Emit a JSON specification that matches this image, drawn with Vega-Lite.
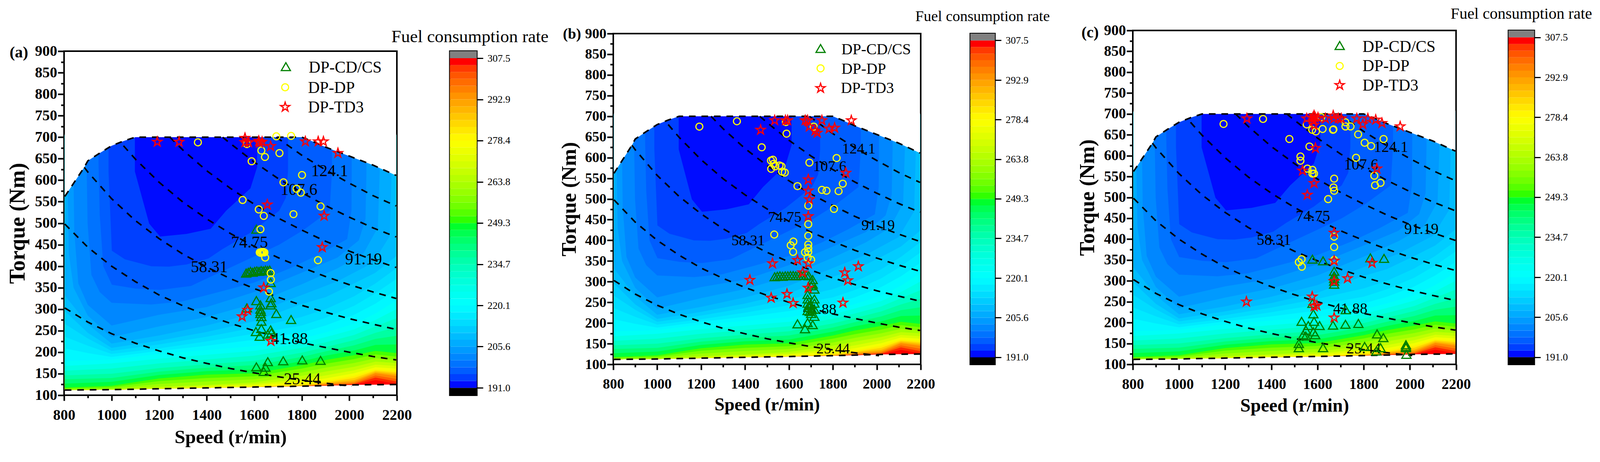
{"$schema":"https://vega.github.io/schema/vega-lite/v6.json","autosize":"none","padding":{"left":164,"top":0,"right":3932,"bottom":1183},"background":"white","config":{"view":{"stroke":"black","strokeWidth":4},"axis":{"grid":false,"domain":false,"tickColor":"black","tickWidth":4,"labelColor":"black","titleColor":"black","labelFont":"Liberation Serif","titleFont":"Liberation Serif","labelFontWeight":"bold","titleFontWeight":"bold","labelOverlap":false,"labelFlush":false}},
"datasets":{
"map":[{"v":307.5,"x":803,"y":112},{"v":307.5,"x":1000,"y":113},{"v":307.5,"x":1200,"y":115},{"v":307.5,"x":1400,"y":117},{"v":307.5,"x":1600,"y":119},{"v":307.5,"x":1800,"y":121},{"v":307.5,"x":1900,"y":122},{"v":307.5,"x":2020,"y":124},{"v":307.5,"x":2110,"y":124.5},{"v":307.5,"x":2197,"y":125},
{"v":305.1,"x":803,"y":112},{"v":305.1,"x":1000,"y":113},{"v":305.1,"x":1200,"y":115},{"v":305.1,"x":1400,"y":117},{"v":305.1,"x":1600,"y":119},{"v":305.1,"x":1800,"y":121},{"v":305.1,"x":1900,"y":122},{"v":305.1,"x":2020,"y":124},{"v":305.1,"x":2110,"y":135},{"v":305.1,"x":2197,"y":127},
{"v":300.2,"x":803,"y":112},{"v":300.2,"x":1000,"y":113},{"v":300.2,"x":1200,"y":115},{"v":300.2,"x":1400,"y":117},{"v":300.2,"x":1600,"y":119},{"v":300.2,"x":1800,"y":121},{"v":300.2,"x":1900,"y":123},{"v":300.2,"x":2020,"y":126},{"v":300.2,"x":2110,"y":141},{"v":300.2,"x":2197,"y":132},
{"v":295.4,"x":803,"y":112},{"v":295.4,"x":1000,"y":113},{"v":295.4,"x":1200,"y":115},{"v":295.4,"x":1400,"y":117},{"v":295.4,"x":1600,"y":119},{"v":295.4,"x":1800,"y":121},{"v":295.4,"x":1900,"y":124},{"v":295.4,"x":2020,"y":128},{"v":295.4,"x":2110,"y":146},{"v":295.4,"x":2197,"y":138},
{"v":290.5,"x":803,"y":112},{"v":290.5,"x":1000,"y":113},{"v":290.5,"x":1200,"y":115},{"v":290.5,"x":1400,"y":117},{"v":290.5,"x":1600,"y":119},{"v":290.5,"x":1800,"y":121},{"v":290.5,"x":1900,"y":126},{"v":290.5,"x":2020,"y":131},{"v":290.5,"x":2110,"y":151},{"v":290.5,"x":2197,"y":145},
{"v":285.6,"x":803,"y":112},{"v":285.6,"x":1000,"y":113},{"v":285.6,"x":1200,"y":115},{"v":285.6,"x":1400,"y":117},{"v":285.6,"x":1600,"y":119},{"v":285.6,"x":1800,"y":122},{"v":285.6,"x":1900,"y":128},{"v":285.6,"x":2020,"y":135},{"v":285.6,"x":2110,"y":154},{"v":285.6,"x":2197,"y":149},
{"v":280.8,"x":803,"y":112},{"v":280.8,"x":1000,"y":113},{"v":280.8,"x":1200,"y":115},{"v":280.8,"x":1400,"y":117},{"v":280.8,"x":1600,"y":119},{"v":280.8,"x":1800,"y":124},{"v":280.8,"x":1900,"y":130},{"v":280.8,"x":2020,"y":140},{"v":280.8,"x":2110,"y":157},{"v":280.8,"x":2197,"y":153},
{"v":276,"x":803,"y":112},{"v":276,"x":1000,"y":113},{"v":276,"x":1200,"y":115},{"v":276,"x":1400,"y":117},{"v":276,"x":1600,"y":120},{"v":276,"x":1800,"y":127},{"v":276,"x":1900,"y":133},{"v":276,"x":2020,"y":145},{"v":276,"x":2110,"y":160},{"v":276,"x":2197,"y":157},
{"v":271.1,"x":803,"y":112},{"v":271.1,"x":1000,"y":113},{"v":271.1,"x":1200,"y":115},{"v":271.1,"x":1400,"y":119},{"v":271.1,"x":1600,"y":123},{"v":271.1,"x":1800,"y":132},{"v":271.1,"x":1900,"y":139},{"v":271.1,"x":2020,"y":151},{"v":271.1,"x":2110,"y":165},{"v":271.1,"x":2197,"y":162},
{"v":266.3,"x":803,"y":112},{"v":266.3,"x":1000,"y":113},{"v":266.3,"x":1200,"y":117},{"v":266.3,"x":1400,"y":122},{"v":266.3,"x":1600,"y":126},{"v":266.3,"x":1800,"y":137},{"v":266.3,"x":1900,"y":146},{"v":266.3,"x":2020,"y":158},{"v":266.3,"x":2110,"y":171},{"v":266.3,"x":2197,"y":168},
{"v":261.4,"x":803,"y":112},{"v":261.4,"x":1000,"y":114},{"v":261.4,"x":1200,"y":120},{"v":261.4,"x":1400,"y":124},{"v":261.4,"x":1600,"y":130},{"v":261.4,"x":1800,"y":145},{"v":261.4,"x":1900,"y":155},{"v":261.4,"x":2020,"y":166},{"v":261.4,"x":2110,"y":178},{"v":261.4,"x":2197,"y":175},
{"v":256.6,"x":803,"y":114},{"v":256.6,"x":1000,"y":116},{"v":256.6,"x":1200,"y":126},{"v":256.6,"x":1400,"y":132},{"v":256.6,"x":1600,"y":137},{"v":256.6,"x":1800,"y":153},{"v":256.6,"x":1900,"y":164},{"v":256.6,"x":2020,"y":175},{"v":256.6,"x":2110,"y":186},{"v":256.6,"x":2197,"y":182},
{"v":251.7,"x":803,"y":116},{"v":251.7,"x":1000,"y":119},{"v":251.7,"x":1200,"y":133},{"v":251.7,"x":1400,"y":140},{"v":251.7,"x":1600,"y":144},{"v":251.7,"x":1800,"y":162},{"v":251.7,"x":1900,"y":173},{"v":251.7,"x":2020,"y":184},{"v":251.7,"x":2110,"y":195},{"v":251.7,"x":2197,"y":190},
{"v":246.8,"x":803,"y":118},{"v":246.8,"x":1000,"y":122},{"v":246.8,"x":1200,"y":139},{"v":246.8,"x":1400,"y":148},{"v":246.8,"x":1600,"y":151},{"v":246.8,"x":1800,"y":170},{"v":246.8,"x":1900,"y":182},{"v":246.8,"x":2020,"y":193},{"v":246.8,"x":2110,"y":203},{"v":246.8,"x":2197,"y":198},
{"v":242,"x":803,"y":127},{"v":242,"x":1000,"y":131},{"v":242,"x":1200,"y":147},{"v":242,"x":1400,"y":156},{"v":242,"x":1600,"y":160},{"v":242,"x":1800,"y":179},{"v":242,"x":1900,"y":192},{"v":242,"x":2020,"y":204},{"v":242,"x":2110,"y":217},{"v":242,"x":2197,"y":218},
{"v":237.1,"x":803,"y":137},{"v":237.1,"x":1000,"y":140},{"v":237.1,"x":1200,"y":155},{"v":237.1,"x":1400,"y":164},{"v":237.1,"x":1600,"y":170},{"v":237.1,"x":1800,"y":189},{"v":237.1,"x":1900,"y":202},{"v":237.1,"x":2020,"y":216},{"v":237.1,"x":2110,"y":231},{"v":237.1,"x":2197,"y":238},
{"v":232.3,"x":803,"y":146},{"v":232.3,"x":1000,"y":150},{"v":232.3,"x":1200,"y":163},{"v":232.3,"x":1400,"y":172},{"v":232.3,"x":1600,"y":180},{"v":232.3,"x":1800,"y":199},{"v":232.3,"x":1900,"y":212},{"v":232.3,"x":2020,"y":228},{"v":232.3,"x":2110,"y":245},{"v":232.3,"x":2197,"y":258},
{"v":227.4,"x":803,"y":157},{"v":227.4,"x":1000,"y":162},{"v":227.4,"x":1200,"y":174},{"v":227.4,"x":1400,"y":183},{"v":227.4,"x":1600,"y":192},{"v":227.4,"x":1800,"y":210},{"v":227.4,"x":1900,"y":223},{"v":227.4,"x":2020,"y":240},{"v":227.4,"x":2110,"y":260},{"v":227.4,"x":2197,"y":279},
{"v":222.6,"x":803,"y":168},{"v":222.6,"x":1000,"y":174},{"v":222.6,"x":1200,"y":185},{"v":222.6,"x":1400,"y":194},{"v":222.6,"x":1600,"y":203},{"v":222.6,"x":1800,"y":221},{"v":222.6,"x":1900,"y":235},{"v":222.6,"x":2020,"y":253},{"v":222.6,"x":2110,"y":275},{"v":222.6,"x":2197,"y":300},
{"v":218.9,"x":803,"y":180},{"v":218.9,"x":900,"y":181},{"v":218.9,"x":1000,"y":183},{"v":218.9,"x":1200,"y":196},{"v":218.9,"x":1400,"y":205},{"v":218.9,"x":1600,"y":214},{"v":218.9,"x":1800,"y":232},{"v":218.9,"x":1900,"y":246},{"v":218.9,"x":2020,"y":266},{"v":218.9,"x":2110,"y":290},{"v":218.9,"x":2197,"y":320},
{"v":216.5,"x":803,"y":209},{"v":216.5,"x":900,"y":198},{"v":216.5,"x":1000,"y":189},{"v":216.5,"x":1200,"y":203},{"v":216.5,"x":1400,"y":215},{"v":216.5,"x":1600,"y":229},{"v":216.5,"x":1800,"y":246},{"v":216.5,"x":1900,"y":262},{"v":216.5,"x":2020,"y":287},{"v":216.5,"x":2110,"y":313},{"v":216.5,"x":2197,"y":345},
{"v":214.1,"x":803,"y":236},{"v":214.1,"x":900,"y":215},{"v":214.1,"x":1000,"y":196},{"v":214.1,"x":1200,"y":209},{"v":214.1,"x":1400,"y":225},{"v":214.1,"x":1600,"y":243},{"v":214.1,"x":1800,"y":262},{"v":214.1,"x":1900,"y":280},{"v":214.1,"x":2020,"y":308},{"v":214.1,"x":2110,"y":337},{"v":214.1,"x":2197,"y":370},
{"v":211.7,"x":803,"y":266},{"v":211.7,"x":900,"y":232},{"v":211.7,"x":1000,"y":203},{"v":211.7,"x":1200,"y":218},{"v":211.7,"x":1400,"y":236},{"v":211.7,"x":1600,"y":257},{"v":211.7,"x":1800,"y":282},{"v":211.7,"x":1900,"y":300},{"v":211.7,"x":2020,"y":330},{"v":211.7,"x":2110,"y":360},{"v":211.7,"x":2197,"y":395},
{"v":209.2,"x":803,"y":296},{"v":209.2,"x":900,"y":245},{"v":209.2,"x":1000,"y":210},{"v":209.2,"x":1200,"y":227},{"v":209.2,"x":1400,"y":247},{"v":209.2,"x":1600,"y":272},{"v":209.2,"x":1800,"y":312},{"v":209.2,"x":1900,"y":328},{"v":209.2,"x":2020,"y":360},{"v":209.2,"x":2110,"y":385},{"v":209.2,"x":2197,"y":423},
{"v":206.8,"x":803,"y":332},{"v":206.8,"x":900,"y":265},{"v":206.8,"x":1000,"y":220},{"v":206.8,"x":1200,"y":239},{"v":206.8,"x":1400,"y":262},{"v":206.8,"x":1600,"y":290},{"v":206.8,"x":1800,"y":333},{"v":206.8,"x":1950,"y":365},{"v":206.8,"x":2100,"y":408},{"v":206.8,"x":2170,"y":470},{"v":206.8,"x":2178,"y":620},
{"v":204.4,"x":815,"y":590},{"v":204.4,"x":820,"y":430},{"v":204.4,"x":840,"y":350},{"v":204.4,"x":900,"y":285},{"v":204.4,"x":1000,"y":235},{"v":204.4,"x":1200,"y":260},{"v":204.4,"x":1400,"y":282},{"v":204.4,"x":1600,"y":313},{"v":204.4,"x":1800,"y":358},{"v":204.4,"x":1950,"y":395},{"v":204.4,"x":2060,"y":430},{"v":204.4,"x":2120,"y":490},{"v":204.4,"x":2128,"y":620},
{"v":201.9,"x":840,"y":600},{"v":201.9,"x":843,"y":480},{"v":201.9,"x":860,"y":360},{"v":201.9,"x":900,"y":310},{"v":201.9,"x":1000,"y":262},{"v":201.9,"x":1200,"y":287},{"v":201.9,"x":1400,"y":305},{"v":201.9,"x":1600,"y":340},{"v":201.9,"x":1800,"y":385},{"v":201.9,"x":1950,"y":420},{"v":201.9,"x":2040,"y":460},{"v":201.9,"x":2068,"y":510},{"v":201.9,"x":2072,"y":620},
{"v":199.5,"x":895,"y":630},{"v":199.5,"x":899,"y":500},{"v":199.5,"x":915,"y":380},{"v":199.5,"x":950,"y":340},{"v":199.5,"x":1000,"y":315},{"v":199.5,"x":1167,"y":311},{"v":199.5,"x":1296,"y":318},{"v":199.5,"x":1445,"y":339},{"v":199.5,"x":1600,"y":362},{"v":199.5,"x":1750,"y":395},{"v":199.5,"x":1871,"y":427},{"v":199.5,"x":1991,"y":463},{"v":199.5,"x":2009,"y":529},{"v":199.5,"x":2010,"y":620},
{"v":197.1,"x":945,"y":640},{"v":197.1,"x":950,"y":520},{"v":197.1,"x":965,"y":400},{"v":197.1,"x":1001,"y":357},{"v":197.1,"x":1102,"y":348},{"v":197.1,"x":1204,"y":345},{"v":197.1,"x":1334,"y":354},{"v":197.1,"x":1426,"y":378},{"v":197.1,"x":1566,"y":414},{"v":197.1,"x":1705,"y":450},{"v":197.1,"x":1807,"y":484},{"v":197.1,"x":1917,"y":529},{"v":197.1,"x":1927,"y":620},
{"v":194.6,"x":987,"y":620},{"v":194.6,"x":1001,"y":436},{"v":194.6,"x":1056,"y":416},{"v":194.6,"x":1167,"y":400},{"v":194.6,"x":1241,"y":399},{"v":194.6,"x":1315,"y":404},{"v":194.6,"x":1408,"y":418},{"v":194.6,"x":1464,"y":439},{"v":194.6,"x":1584,"y":478},{"v":194.6,"x":1705,"y":529},{"v":194.6,"x":1733,"y":559},{"v":194.6,"x":1742,"y":620},
{"v":192.2,"x":1098,"y":620},{"v":192.2,"x":1158,"y":499},{"v":192.2,"x":1204,"y":469},{"v":192.2,"x":1315,"y":475},{"v":192.2,"x":1417,"y":487},{"v":192.2,"x":1482,"y":529},{"v":192.2,"x":1584,"y":581},{"v":192.2,"x":1612,"y":630}],
"env":[{"x":803,"y":562},{"x":885,"y":630},{"x":900,"y":645},{"x":950,"y":663},{"x":1000,"y":680},{"x":1050,"y":691},{"x":1100,"y":700},{"x":1800,"y":700},{"x":1850,"y":689},{"x":1900,"y":677},{"x":2000,"y":656},{"x":2100,"y":635},{"x":2197,"y":611}],
"iso":[{"id":"top","x":803,"y":562},{"id":"top","x":885,"y":630},{"id":"top","x":900,"y":645},{"id":"top","x":950,"y":663},{"id":"top","x":1000,"y":680},{"id":"top","x":1050,"y":691},{"id":"top","x":1100,"y":700},{"id":"top","x":1800,"y":700},{"id":"top","x":1850,"y":689},{"id":"top","x":1900,"y":677},{"id":"top","x":2000,"y":656},{"id":"top","x":2100,"y":635},{"id":"top","x":2197,"y":611},
{"id":"bot","x":803,"y":112},{"id":"bot","x":1000,"y":113},{"id":"bot","x":1200,"y":115},{"id":"bot","x":1400,"y":117},{"id":"bot","x":1600,"y":119},{"id":"bot","x":1800,"y":121},{"id":"bot","x":2020,"y":124},{"id":"bot","x":2197,"y":125},
{"id":"p25","x":803,"y":303},{"id":"p25","x":900,"y":270},{"id":"p25","x":1000,"y":243},{"id":"p25","x":1100,"y":221},{"id":"p25","x":1200,"y":203},{"id":"p25","x":1300,"y":187},{"id":"p25","x":1400,"y":174},{"id":"p25","x":1500,"y":162},{"id":"p25","x":1600,"y":152},{"id":"p25","x":1700,"y":143},{"id":"p25","x":1800,"y":135},{"id":"p25","x":1900,"y":128},{"id":"p25","x":2010,"y":121},
{"id":"p41","x":803,"y":498},{"id":"p41","x":900,"y":444},{"id":"p41","x":1000,"y":400},{"id":"p41","x":1100,"y":364},{"id":"p41","x":1200,"y":333},{"id":"p41","x":1300,"y":308},{"id":"p41","x":1400,"y":286},{"id":"p41","x":1500,"y":267},{"id":"p41","x":1600,"y":250},{"id":"p41","x":1700,"y":235},{"id":"p41","x":1800,"y":222},{"id":"p41","x":1900,"y":211},{"id":"p41","x":2000,"y":200},{"id":"p41","x":2100,"y":190},{"id":"p41","x":2197,"y":182},
{"id":"p58","x":885,"y":630},{"id":"p58","x":900,"y":619},{"id":"p58","x":1000,"y":557},{"id":"p58","x":1100,"y":506},{"id":"p58","x":1200,"y":464},{"id":"p58","x":1300,"y":428},{"id":"p58","x":1400,"y":398},{"id":"p58","x":1500,"y":371},{"id":"p58","x":1600,"y":348},{"id":"p58","x":1700,"y":328},{"id":"p58","x":1800,"y":309},{"id":"p58","x":1900,"y":293},{"id":"p58","x":2000,"y":278},{"id":"p58","x":2100,"y":265},{"id":"p58","x":2197,"y":253},
{"id":"p74","x":1050,"y":680},{"id":"p74","x":1100,"y":649},{"id":"p74","x":1200,"y":595},{"id":"p74","x":1300,"y":549},{"id":"p74","x":1400,"y":510},{"id":"p74","x":1500,"y":476},{"id":"p74","x":1600,"y":446},{"id":"p74","x":1700,"y":420},{"id":"p74","x":1800,"y":397},{"id":"p74","x":1900,"y":376},{"id":"p74","x":2000,"y":357},{"id":"p74","x":2100,"y":340},{"id":"p74","x":2197,"y":325},
{"id":"p91","x":1245,"y":700},{"id":"p91","x":1300,"y":670},{"id":"p91","x":1400,"y":622},{"id":"p91","x":1500,"y":581},{"id":"p91","x":1600,"y":544},{"id":"p91","x":1700,"y":512},{"id":"p91","x":1800,"y":484},{"id":"p91","x":1900,"y":458},{"id":"p91","x":2000,"y":435},{"id":"p91","x":2100,"y":415},{"id":"p91","x":2197,"y":397},
{"id":"p107","x":1467,"y":700},{"id":"p107","x":1500,"y":685},{"id":"p107","x":1600,"y":642},{"id":"p107","x":1700,"y":604},{"id":"p107","x":1800,"y":571},{"id":"p107","x":1900,"y":541},{"id":"p107","x":2000,"y":514},{"id":"p107","x":2100,"y":489},{"id":"p107","x":2197,"y":468},
{"id":"p124","x":1693,"y":700},{"id":"p124","x":1800,"y":658},{"id":"p124","x":1900,"y":624},{"id":"p124","x":2000,"y":593},{"id":"p124","x":2100,"y":564},{"id":"p124","x":2197,"y":540}],
"bands":[{"v":192.2,"a":191,"b":193.43},{"v":194.6,"a":193.43,"b":195.85},{"v":197.1,"a":195.85,"b":198.28},{"v":199.5,"a":198.28,"b":200.71},{"v":201.9,"a":200.71,"b":203.14},{"v":204.4,"a":203.14,"b":205.56},{"v":206.8,"a":205.56,"b":207.99},{"v":209.2,"a":207.99,"b":210.42},{"v":211.6,"a":210.42,"b":212.84},{"v":214.1,"a":212.84,"b":215.27},{"v":216.5,"a":215.27,"b":217.7},{"v":218.9,"a":217.7,"b":220.13},{"v":221.3,"a":220.13,"b":222.55},{"v":223.8,"a":222.55,"b":224.98},{"v":226.2,"a":224.98,"b":227.41},{"v":228.6,"a":227.41,"b":229.83},{"v":231,"a":229.83,"b":232.26},{"v":233.5,"a":232.26,"b":234.69},{"v":235.9,"a":234.69,"b":237.11},{"v":238.3,"a":237.11,"b":239.54},{"v":240.8,"a":239.54,"b":241.97},{"v":243.2,"a":241.97,"b":244.4},{"v":245.6,"a":244.4,"b":246.82},{"v":248,"a":246.82,"b":249.25},{"v":250.5,"a":249.25,"b":251.68},{"v":252.9,"a":251.68,"b":254.1},{"v":255.3,"a":254.1,"b":256.53},{"v":257.7,"a":256.53,"b":258.96},{"v":260.2,"a":258.96,"b":261.39},{"v":262.6,"a":261.39,"b":263.81},{"v":265,"a":263.81,"b":266.24},{"v":267.5,"a":266.24,"b":268.67},{"v":269.9,"a":268.67,"b":271.09},{"v":272.3,"a":271.09,"b":273.52},{"v":274.7,"a":273.52,"b":275.95},{"v":277.2,"a":275.95,"b":278.38},{"v":279.6,"a":278.38,"b":280.8},{"v":282,"a":280.8,"b":283.23},{"v":284.4,"a":283.23,"b":285.66},{"v":286.9,"a":285.66,"b":288.08},{"v":289.3,"a":288.08,"b":290.51},{"v":291.7,"a":290.51,"b":292.94},{"v":294.2,"a":292.94,"b":295.36},{"v":296.6,"a":295.36,"b":297.79},{"v":299,"a":297.79,"b":300.22},{"v":301.4,"a":300.22,"b":302.65},{"v":303.9,"a":302.65,"b":305.07},{"v":306.3,"a":305.07,"b":307.5}],
"a_t":[{"x":1733,"y":864},{"x":1609,"y":486},{"x":1566,"y":384},{"x":1575,"y":386},{"x":1584,"y":388},{"x":1593,"y":386},{"x":1602,"y":388},{"x":1611,"y":389},{"x":1620,"y":388},{"x":1629,"y":390},{"x":1638,"y":389},{"x":1647,"y":391},{"x":1656,"y":390},{"x":1665,"y":391},{"x":1669,"y":362},{"x":1669,"y":327},{"x":1669,"y":310},{"x":1672,"y":315},{"x":1609,"y":320},{"x":1569,"y":303},{"x":1626,"y":310},{"x":1626,"y":300},{"x":1628,"y":295},{"x":1626,"y":290},{"x":1630,"y":283},{"x":1630,"y":272},{"x":1693,"y":290},{"x":1755,"y":276},{"x":1607,"y":248},{"x":1630,"y":255},{"x":1669,"y":252},{"x":1623,"y":237},{"x":1657,"y":242},{"x":1672,"y":245},{"x":1609,"y":166},{"x":1657,"y":178},{"x":1647,"y":165},{"x":1640,"y":155},{"x":1722,"y":180},{"x":1802,"y":182},{"x":1879,"y":181}],
"a_c":[{"x":1730,"y":816},{"x":1363,"y":688},{"x":1569,"y":684},{"x":1693,"y":702},{"x":1755,"y":703},{"x":1630,"y":669},{"x":1706,"y":663},{"x":1645,"y":654},{"x":1589,"y":644},{"x":1801,"y":612},{"x":1723,"y":595},{"x":1778,"y":580},{"x":1796,"y":571},{"x":1551,"y":554},{"x":1879,"y":539},{"x":1619,"y":532},{"x":1640,"y":517},{"x":1765,"y":521},{"x":1626,"y":486},{"x":1868,"y":414},{"x":1646,"y":420},{"x":1623,"y":432},{"x":1627,"y":431},{"x":1631,"y":433},{"x":1635,"y":432},{"x":1639,"y":433},{"x":1643,"y":432},{"x":1669,"y":384},{"x":1670,"y":369},{"x":1662,"y":341}],
"a_s":[{"x":1730,"y":770},{"x":1192,"y":689},{"x":1284,"y":689},{"x":1561,"y":698},{"x":1561,"y":688},{"x":1576,"y":688},{"x":1619,"y":691},{"x":1633,"y":689},{"x":1622,"y":687},{"x":1669,"y":679},{"x":1815,"y":690},{"x":1869,"y":690},{"x":1891,"y":690},{"x":1952,"y":663},{"x":1655,"y":543},{"x":1894,"y":517},{"x":1886,"y":444},{"x":1640,"y":350},{"x":1572,"y":298},{"x":1549,"y":283},{"x":1670,"y":226}],
"b_t":[{"x":1744,"y":864},{"x":1535,"y":312},{"x":1547,"y":313},{"x":1559,"y":314},{"x":1571,"y":313},{"x":1583,"y":314},{"x":1595,"y":314},{"x":1607,"y":315},{"x":1619,"y":315},{"x":1631,"y":314},{"x":1643,"y":315},{"x":1655,"y":315},{"x":1667,"y":315},{"x":1679,"y":316},{"x":1690,"y":314},{"x":1708,"y":305},{"x":1708,"y":294},{"x":1701,"y":290},{"x":1716,"y":282},{"x":1685,"y":269},{"x":1716,"y":258},{"x":1685,"y":258},{"x":1716,"y":248},{"x":1685,"y":248},{"x":1693,"y":237},{"x":1716,"y":233},{"x":1685,"y":230},{"x":1701,"y":223},{"x":1716,"y":216},{"x":1690,"y":242},{"x":1698,"y":244},{"x":1703,"y":235},{"x":1695,"y":228},{"x":1639,"y":198},{"x":1685,"y":201},{"x":1708,"y":196},{"x":1673,"y":186}],
"b_c":[{"x":1744,"y":816},{"x":1192,"y":675},{"x":1363,"y":688},{"x":1586,"y":686},{"x":1589,"y":658},{"x":1713,"y":675},{"x":1476,"y":625},{"x":1518,"y":593},{"x":1527,"y":595},{"x":1519,"y":573},{"x":1530,"y":585},{"x":1538,"y":579},{"x":1557,"y":581},{"x":1566,"y":579},{"x":1569,"y":566},{"x":1581,"y":564},{"x":1693,"y":588},{"x":1817,"y":599},{"x":1845,"y":537},{"x":1639,"y":531},{"x":1750,"y":522},{"x":1771,"y":520},{"x":1826,"y":519},{"x":1688,"y":484},{"x":1805,"y":476},{"x":1688,"y":439},{"x":1533,"y":414},{"x":1688,"y":411},{"x":1620,"y":397},{"x":1608,"y":388},{"x":1688,"y":390},{"x":1688,"y":381},{"x":1688,"y":372},{"x":1673,"y":371},{"x":1619,"y":372},{"x":1685,"y":358},{"x":1701,"y":353}],
"b_s":[{"x":1744,"y":768},{"x":1535,"y":690},{"x":1584,"y":690},{"x":1594,"y":690},{"x":1674,"y":690},{"x":1685,"y":690},{"x":1750,"y":690},{"x":1884,"y":690},{"x":1471,"y":667},{"x":1693,"y":675},{"x":1719,"y":665},{"x":1729,"y":660},{"x":1783,"y":670},{"x":1808,"y":672},{"x":1859,"y":563},{"x":1688,"y":547},{"x":1688,"y":520},{"x":1693,"y":499},{"x":1688,"y":458},{"x":1525,"y":344},{"x":1639,"y":352},{"x":1688,"y":344},{"x":1662,"y":322},{"x":1854,"y":322},{"x":1916,"y":337},{"x":1868,"y":303},{"x":1422,"y":304},{"x":1687,"y":285},{"x":1591,"y":270},{"x":1519,"y":261},{"x":1619,"y":248},{"x":1846,"y":249}],
"c_t":[{"x":1696,"y":864},{"x":1578,"y":352},{"x":1624,"y":348},{"x":1829,"y":355},{"x":1888,"y":354},{"x":1672,"y":323},{"x":1672,"y":312},{"x":1672,"y":306},{"x":1672,"y":299},{"x":1672,"y":292},{"x":1578,"y":246},{"x":1722,"y":231},{"x":1582,"y":221},{"x":1531,"y":203},{"x":1585,"y":203},{"x":1609,"y":193},{"x":1667,"y":194},{"x":1721,"y":196},{"x":1777,"y":198},{"x":1560,"y":193},{"x":1550,"y":182},{"x":1582,"y":178},{"x":1590,"y":171},{"x":1538,"y":171},{"x":1549,"y":168},{"x":1519,"y":150},{"x":1519,"y":140},{"x":1624,"y":140},{"x":1804,"y":143},{"x":1858,"y":173},{"x":1885,"y":164},{"x":1873,"y":140},{"x":1855,"y":132},{"x":1983,"y":147},{"x":1983,"y":143},{"x":1983,"y":140},{"x":1985,"y":124}],
"c_c":[{"x":1696,"y":815},{"x":1193,"y":676},{"x":1364,"y":688},{"x":1553,"y":675},{"x":1616,"y":692},{"x":1577,"y":662},{"x":1593,"y":658},{"x":1622,"y":664},{"x":1667,"y":662},{"x":1669,"y":663},{"x":1721,"y":680},{"x":1721,"y":670},{"x":1743,"y":670},{"x":1776,"y":651},{"x":1804,"y":631},{"x":1832,"y":623},{"x":1886,"y":640},{"x":1478,"y":640},{"x":1565,"y":622},{"x":1526,"y":598},{"x":1526,"y":588},{"x":1556,"y":569},{"x":1578,"y":566},{"x":1578,"y":557},{"x":1585,"y":557},{"x":1767,"y":595},{"x":1846,"y":552},{"x":1849,"y":529},{"x":1873,"y":535},{"x":1672,"y":545},{"x":1669,"y":524},{"x":1672,"y":516},{"x":1646,"y":496},{"x":1672,"y":406},{"x":1672,"y":381},{"x":1531,"y":352},{"x":1519,"y":345},{"x":1532,"y":334},{"x":1672,"y":350}],
"c_s":[{"x":1696,"y":769},{"x":1294,"y":689},{"x":1553,"y":689},{"x":1585,"y":696},{"x":1580,"y":691},{"x":1590,"y":691},{"x":1583,"y":683},{"x":1585,"y":673},{"x":1602,"y":691},{"x":1634,"y":689},{"x":1668,"y":696},{"x":1671,"y":689},{"x":1690,"y":689},{"x":1703,"y":689},{"x":1770,"y":689},{"x":1818,"y":689},{"x":1852,"y":686},{"x":1879,"y":678},{"x":1796,"y":675},{"x":1958,"y":670},{"x":1591,"y":618},{"x":1857,"y":569},{"x":1535,"y":564},{"x":1585,"y":534},{"x":1556,"y":506},{"x":1672,"y":415},{"x":1672,"y":348},{"x":1836,"y":343},{"x":1730,"y":306},{"x":1672,"y":299},{"x":1577,"y":262},{"x":1292,"y":250},{"x":1597,"y":241},{"x":1585,"y":239},{"x":1672,"y":212}],
"a_l":[{"t":"124.1","x":1917,"y":621},{"t":"107.6","x":1788,"y":578},{"t":"91.19","x":2060,"y":416},{"t":"74.75","x":1580,"y":455},{"t":"58.31","x":1411,"y":398},{"t":"41.88","x":1748,"y":231},{"t":"25.44","x":1802,"y":137}],
"b_l":[{"t":"124.1","x":1918,"y":620},{"t":"107.6","x":1786,"y":578},{"t":"91.19","x":2006,"y":435},{"t":"74.75","x":1581,"y":455},{"t":"58.31","x":1414,"y":398},{"t":"41.88","x":1740,"y":232},{"t":"25.44","x":1801,"y":137}],
"c_l":[{"t":"124.1","x":1918,"y":620},{"t":"107.6","x":1789,"y":578},{"t":"91.19","x":2050,"y":424},{"t":"74.75","x":1580,"y":455},{"t":"58.31","x":1411,"y":398},{"t":"41.88","x":1742,"y":233},{"t":"25.44","x":1800,"y":137}],
"a_g":[{"t":"DP-CD/CS","x":1829,"y":861},{"t":"DP-DP","x":1826,"y":814},{"t":"DP-TD3","x":1826,"y":768}],
"b_g":[{"t":"DP-CD/CS","x":1839,"y":861},{"t":"DP-DP","x":1839,"y":814},{"t":"DP-TD3","x":1836,"y":768}],
"c_g":[{"t":"DP-CD/CS","x":1795,"y":860},{"t":"DP-DP","x":1795,"y":814},{"t":"DP-TD3","x":1795,"y":767}]
},
"hconcat":[{"hconcat":[
{"vconcat":[{"width":1,"height":70,"view":{"stroke":null},"data":{"values":[{"a":1}]},"mark":{"type":"point","opacity":0}},
{"hconcat":[
{"width":852,"height":881,
"encoding":{"x":{"field":"x","type":"quantitative","scale":{"domain":[800,2200],"nice":false},"axis":{"title":"Speed (r/min)","titleFontSize":49,"titlePadding":13,"labelFontSize":38,"labelPadding":18,"format":"d","values":[800,900,1000,1100,1200,1300,1400,1500,1600,1700,1800,1900,2000,2100,2200],"labelExpr":"datum.value % 200 == 0 ? datum.label : ''","tickSize":{"condition":{"test":"datum.value % 200 == 0","value":14},"value":7}}},"y":{"field":"y","type":"quantitative","scale":{"domain":[100,900],"nice":false},"axis":{"title":"Torque (Nm)","titleFontSize":56,"titlePadding":15,"labelFontSize":38,"labelPadding":2,"format":"d","values":[100,125,150,175,200,225,250,275,300,325,350,375,400,425,450,475,500,525,550,575,600,625,650,675,700,725,750,775,800,825,850,875,900],"labelExpr":"datum.value % 50 == 0 ? datum.label : ''","tickSize":{"condition":{"test":"datum.value % 50 == 0","value":16},"value":8}}}},
"layer":[
{"data":{"name":"map"},"mark":{"type":"area"},"encoding":{"y2":{"datum":705},"detail":{"field":"v","type":"nominal"},"color":{"field":"v","type":"quantitative","legend":null,"scale":{"domain":[192,220.1,249.3,278.4,306.3],"range":["#0000ff","#00ffff","#00ff00","#ffff00","#ff0000"],"clamp":true}}}},
{"data":{"name":"env"},"mark":{"type":"area","color":"white"},"encoding":{"y2":{"datum":708}}},
{"data":{"name":"iso"},"mark":{"type":"line","color":"black","strokeWidth":4,"strokeDash":[17,15]},"encoding":{"detail":{"field":"id","type":"nominal"}}},
{"data":{"name":"a_l"},"mark":{"type":"text","font":"Liberation Serif","fontSize":42,"align":"center","baseline":"middle","color":"black"},"encoding":{"text":{"field":"t","type":"nominal"}}},
{"data":{"name":"a_g"},"mark":{"type":"text","font":"Liberation Serif","fontSize":41.5,"align":"left","baseline":"middle","color":"black"},"encoding":{"text":{"field":"t","type":"nominal"}}},
{"data":{"values":[{"x":610,"y":896,"t":"(a)"}]},"mark":{"type":"text","font":"Liberation Serif","fontWeight":"bold","fontSize":41,"align":"center","baseline":"middle","color":"black"},"encoding":{"text":{"field":"t","type":"nominal"}}},
{"data":{"name":"a_t"},"mark":{"type":"point","shape":"triangle-up","filled":false,"stroke":"#008000","strokeWidth":3,"size":550,"opacity":1}},
{"data":{"name":"a_c"},"mark":{"type":"point","shape":"circle","filled":false,"stroke":"#ffff00","strokeWidth":3,"size":320,"opacity":1}},
{"data":{"name":"a_s"},"mark":{"type":"point","shape":"M0,-1L0.224,-0.309L0.951,-0.309L0.363,0.118L0.588,0.809L0,0.382L-0.588,0.809L-0.363,0.118L-0.951,-0.309L-0.224,-0.309Z","filled":false,"stroke":"#ff0000","strokeWidth":3,"size":620,"opacity":1}}
]},
{"width":69,"height":881,"title":{"text":"Fuel consumption rate","font":"Liberation Serif","fontSize":45,"fontWeight":"normal","color":"black","anchor":"middle","offset":14,"dx":17},
"layer":[
{"data":{"name":"bands"},"mark":{"type":"rect"},"encoding":{"y":{"field":"a","type":"quantitative","scale":{"domain":[188.4,310],"nice":false},"axis":{"title":null,"orient":"right","values":[191,205.6,220.1,234.7,249.3,263.8,278.4,292.9,307.5],"format":".1f","tickSize":16,"tickWidth":3,"labelFontSize":26,"labelFontWeight":"normal","labelPadding":11}},"y2":{"field":"b"},"color":{"field":"v","type":"quantitative","legend":null,"scale":{"domain":[192,220.1,249.3,278.4,306.3],"range":["#0000ff","#00ffff","#00ff00","#ffff00","#ff0000"],"clamp":true}}}},
{"data":{"values":[{"a":188.4,"b":191}]},"mark":{"type":"rect","color":"black"},"encoding":{"y":{"field":"a","type":"quantitative"},"y2":{"field":"b"}}},
{"data":{"values":[{"a":307.5,"b":310}]},"mark":{"type":"rect","color":"#808080"},"encoding":{"y":{"field":"a","type":"quantitative"},"y2":{"field":"b"}}}
]}
],"spacing":135.6,"bounds":"flush","align":"none"}],"spacing":0},
{"vconcat":[{"width":1,"height":19.5,"view":{"stroke":null},"data":{"values":[{"a":1}]},"mark":{"type":"point","opacity":0}},
{"hconcat":[
{"width":787,"height":847,
"encoding":{"x":{"field":"x","type":"quantitative","scale":{"domain":[800,2200],"nice":false},"axis":{"title":"Speed (r/min)","titleFontSize":46,"titlePadding":13,"labelFontSize":36.5,"labelPadding":18,"format":"d","values":[800,900,1000,1100,1200,1300,1400,1500,1600,1700,1800,1900,2000,2100,2200],"labelExpr":"datum.value % 200 == 0 ? datum.label : ''","tickSize":{"condition":{"test":"datum.value % 200 == 0","value":14},"value":7}}},"y":{"field":"y","type":"quantitative","scale":{"domain":[100,900],"nice":false},"axis":{"title":"Torque (Nm)","titleFontSize":53,"titlePadding":13,"labelFontSize":36.5,"labelPadding":2,"format":"d","values":[100,125,150,175,200,225,250,275,300,325,350,375,400,425,450,475,500,525,550,575,600,625,650,675,700,725,750,775,800,825,850,875,900],"labelExpr":"datum.value % 50 == 0 ? datum.label : ''","tickSize":{"condition":{"test":"datum.value % 50 == 0","value":16},"value":8}}}},
"layer":[
{"data":{"name":"map"},"mark":{"type":"area"},"encoding":{"y2":{"datum":705},"detail":{"field":"v","type":"nominal"},"color":{"field":"v","type":"quantitative","legend":null,"scale":{"domain":[192,220.1,249.3,278.4,306.3],"range":["#0000ff","#00ffff","#00ff00","#ffff00","#ff0000"],"clamp":true}}}},
{"data":{"name":"env"},"mark":{"type":"area","color":"white"},"encoding":{"y2":{"datum":708}}},
{"data":{"name":"iso"},"mark":{"type":"line","color":"black","strokeWidth":4,"strokeDash":[17,15]},"encoding":{"detail":{"field":"id","type":"nominal"}}},
{"data":{"name":"b_l"},"mark":{"type":"text","font":"Liberation Serif","fontSize":38,"align":"center","baseline":"middle","color":"black"},"encoding":{"text":{"field":"t","type":"nominal"}}},
{"data":{"name":"b_g"},"mark":{"type":"text","font":"Liberation Serif","fontSize":39.5,"align":"left","baseline":"middle","color":"black"},"encoding":{"text":{"field":"t","type":"nominal"}}},
{"data":{"values":[{"x":612,"y":898,"t":"(b)"}]},"mark":{"type":"text","font":"Liberation Serif","fontWeight":"bold","fontSize":38,"align":"center","baseline":"middle","color":"black"},"encoding":{"text":{"field":"t","type":"nominal"}}},
{"data":{"name":"b_t"},"mark":{"type":"point","shape":"triangle-up","filled":false,"stroke":"#008000","strokeWidth":3,"size":550,"opacity":1}},
{"data":{"name":"b_c"},"mark":{"type":"point","shape":"circle","filled":false,"stroke":"#ffff00","strokeWidth":3,"size":320,"opacity":1}},
{"data":{"name":"b_s"},"mark":{"type":"point","shape":"M0,-1L0.224,-0.309L0.951,-0.309L0.363,0.118L0.588,0.809L0,0.382L-0.588,0.809L-0.363,0.118L-0.951,-0.309L-0.224,-0.309Z","filled":false,"stroke":"#ff0000","strokeWidth":3,"size":620,"opacity":1}}
]},
{"width":63,"height":847,"title":{"text":"Fuel consumption rate","font":"Liberation Serif","fontSize":38.5,"fontWeight":"normal","color":"black","anchor":"middle","offset":24},
"layer":[
{"data":{"name":"bands"},"mark":{"type":"rect"},"encoding":{"y":{"field":"a","type":"quantitative","scale":{"domain":[188.4,310],"nice":false},"axis":{"title":null,"orient":"right","values":[191,205.6,220.1,234.7,249.3,263.8,278.4,292.9,307.5],"format":".1f","tickSize":16,"tickWidth":3,"labelFontSize":26,"labelFontWeight":"normal","labelPadding":11}},"y2":{"field":"b"},"color":{"field":"v","type":"quantitative","legend":null,"scale":{"domain":[192,220.1,249.3,278.4,306.3],"range":["#0000ff","#00ffff","#00ff00","#ffff00","#ff0000"],"clamp":true}}}},
{"data":{"values":[{"a":188.4,"b":191}]},"mark":{"type":"rect","color":"black"},"encoding":{"y":{"field":"a","type":"quantitative"},"y2":{"field":"b"}}},
{"data":{"values":[{"a":307.5,"b":310}]},"mark":{"type":"rect","color":"#808080"},"encoding":{"y":{"field":"a","type":"quantitative"},"y2":{"field":"b"}}}
]}
],"spacing":127,"bounds":"flush","align":"none"}],"spacing":0}
],"spacing":22,"bounds":"full","align":"none"},
{"vconcat":[{"width":1,"height":13,"view":{"stroke":null},"data":{"values":[{"a":1}]},"mark":{"type":"point","opacity":0}},
{"hconcat":[
{"width":827.5,"height":855,
"encoding":{"x":{"field":"x","type":"quantitative","scale":{"domain":[800,2200],"nice":false},"axis":{"title":"Speed (r/min)","titleFontSize":47.5,"titlePadding":13,"labelFontSize":37.5,"labelPadding":18,"format":"d","values":[800,900,1000,1100,1200,1300,1400,1500,1600,1700,1800,1900,2000,2100,2200],"labelExpr":"datum.value % 200 == 0 ? datum.label : ''","tickSize":{"condition":{"test":"datum.value % 200 == 0","value":14},"value":7}}},"y":{"field":"y","type":"quantitative","scale":{"domain":[100,900],"nice":false},"axis":{"title":"Torque (Nm)","titleFontSize":54,"titlePadding":14,"labelFontSize":37.5,"labelPadding":2,"format":"d","values":[100,125,150,175,200,225,250,275,300,325,350,375,400,425,450,475,500,525,550,575,600,625,650,675,700,725,750,775,800,825,850,875,900],"labelExpr":"datum.value % 50 == 0 ? datum.label : ''","tickSize":{"condition":{"test":"datum.value % 50 == 0","value":16},"value":8}}}},
"layer":[
{"data":{"name":"map"},"mark":{"type":"area"},"encoding":{"y2":{"datum":705},"detail":{"field":"v","type":"nominal"},"color":{"field":"v","type":"quantitative","legend":null,"scale":{"domain":[192,220.1,249.3,278.4,306.3],"range":["#0000ff","#00ffff","#00ff00","#ffff00","#ff0000"],"clamp":true}}}},
{"data":{"name":"env"},"mark":{"type":"area","color":"white"},"encoding":{"y2":{"datum":708}}},
{"data":{"name":"iso"},"mark":{"type":"line","color":"black","strokeWidth":4,"strokeDash":[17,15]},"encoding":{"detail":{"field":"id","type":"nominal"}}},
{"data":{"name":"c_l"},"mark":{"type":"text","font":"Liberation Serif","fontSize":39,"align":"center","baseline":"middle","color":"black"},"encoding":{"text":{"field":"t","type":"nominal"}}},
{"data":{"name":"c_g"},"mark":{"type":"text","font":"Liberation Serif","fontSize":41.5,"align":"left","baseline":"middle","color":"black"},"encoding":{"text":{"field":"t","type":"nominal"}}},
{"data":{"values":[{"x":615,"y":894,"t":"(c)"}]},"mark":{"type":"text","font":"Liberation Serif","fontWeight":"bold","fontSize":40,"align":"center","baseline":"middle","color":"black"},"encoding":{"text":{"field":"t","type":"nominal"}}},
{"data":{"name":"c_t"},"mark":{"type":"point","shape":"triangle-up","filled":false,"stroke":"#008000","strokeWidth":3,"size":550,"opacity":1}},
{"data":{"name":"c_c"},"mark":{"type":"point","shape":"circle","filled":false,"stroke":"#ffff00","strokeWidth":3,"size":320,"opacity":1}},
{"data":{"name":"c_s"},"mark":{"type":"point","shape":"M0,-1L0.224,-0.309L0.951,-0.309L0.363,0.118L0.588,0.809L0,0.382L-0.588,0.809L-0.363,0.118L-0.951,-0.309L-0.224,-0.309Z","filled":false,"stroke":"#ff0000","strokeWidth":3,"size":620,"opacity":1}}
]},
{"width":66,"height":855,"title":{"text":"Fuel consumption rate","font":"Liberation Serif","fontSize":40.5,"fontWeight":"normal","color":"black","anchor":"middle","offset":22},
"layer":[
{"data":{"name":"bands"},"mark":{"type":"rect"},"encoding":{"y":{"field":"a","type":"quantitative","scale":{"domain":[188.4,310],"nice":false},"axis":{"title":null,"orient":"right","values":[191,205.6,220.1,234.7,249.3,263.8,278.4,292.9,307.5],"format":".1f","tickSize":16,"tickWidth":3,"labelFontSize":26,"labelFontWeight":"normal","labelPadding":11}},"y2":{"field":"b"},"color":{"field":"v","type":"quantitative","legend":null,"scale":{"domain":[192,220.1,249.3,278.4,306.3],"range":["#0000ff","#00ffff","#00ff00","#ffff00","#ff0000"],"clamp":true}}}},
{"data":{"values":[{"a":188.4,"b":191}]},"mark":{"type":"rect","color":"black"},"encoding":{"y":{"field":"a","type":"quantitative"},"y2":{"field":"b"}}},
{"data":{"values":[{"a":307.5,"b":310}]},"mark":{"type":"rect","color":"#808080"},"encoding":{"y":{"field":"a","type":"quantitative"},"y2":{"field":"b"}}}
]}
],"spacing":133.7,"bounds":"flush","align":"none"}],"spacing":0}
],"spacing":65,"bounds":"full","align":"none"}
